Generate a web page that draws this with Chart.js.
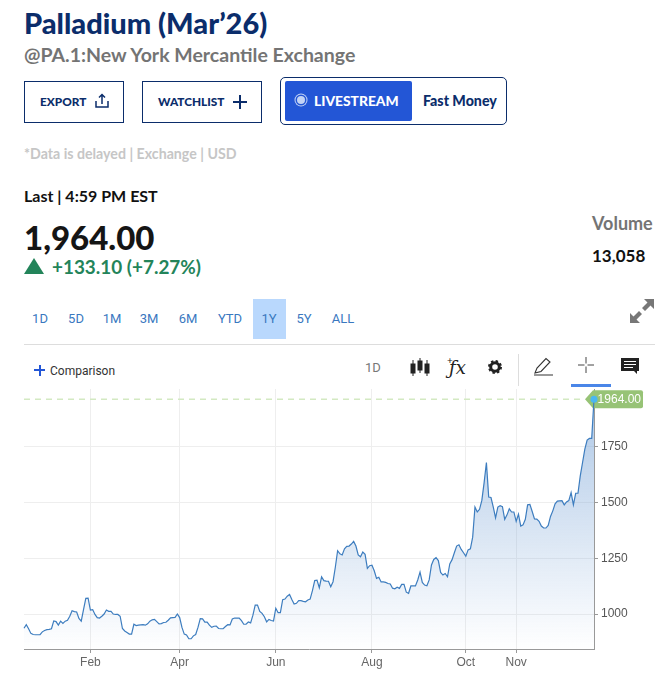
<!DOCTYPE html>
<html>
<head>
<meta charset="utf-8">
<title>Palladium (Mar'26)</title>
<script src="https://cdn.jsdelivr.net/npm/chart.js@4"></script>
<style>
html, body { margin: 0; padding: 0; background: #fff; overflow: hidden; }
#page { position: relative; width: 665px; height: 674px; font-family: "Lato", "Open Sans", sans-serif; }
#page > * { position: absolute; white-space: nowrap; }
#chart { left: 0; top: 385px; }
.title { left: 24px; top: 7px; font-size: 29px; line-height: 32px; font-weight: 900; color: #0b2d6b; }
.sub { left: 24px; top: 43px; font-size: 19.5px; line-height: 24px; font-weight: 700; color: #747474; }
.btn { box-sizing: border-box; top: 81px; height: 42px; border: 1px solid #0b2d6b; color: #0b2d6b; font-size: 11.8px; font-weight: 900; line-height: 40px; }
.btn span, .btn svg { position: absolute; }
.live-box { left: 280px; top: 77px; width: 227px; height: 48px; box-sizing: border-box; border: 1px solid #0b2d6b; border-radius: 5px; }
.live { left: 285px; top: 81px; width: 127px; height: 40px; background: #2356d6; border-radius: 2px; }
.live-txt { left: 314px; top: 92px; font-size: 13.8px; line-height: 17px; font-weight: 900; color: #fff; }
.live-dot { left: 297px; top: 96px; width: 8px; height: 8px; background: #c3d3f5; border-radius: 50%; box-shadow: 0 0 0 1.5px #2356d6, 0 0 0 2.5px #c3d3f5; }
.fast { left: 423px; top: 92px; font-size: 14.2px; line-height: 17px; font-weight: 900; color: #0b2d6b; }
.delay { left: 24px; top: 145px; font-size: 14.2px; line-height: 17px; font-weight: 700; color: #c6c6c6; }
.last { left: 24px; top: 187px; font-size: 16px; line-height: 18px; font-weight: 700; color: #111; }
.price { left: 24px; top: 217px; font-size: 33px; line-height: 40px; font-weight: 900; color: #151515; }
.change { left: 52px; top: 256px; font-size: 18.9px; line-height: 22px; font-weight: 700; color: #23845a; }
.vol { left: 592px; top: 212px; font-size: 18px; line-height: 22px; font-weight: 700; color: #747474; }
.volnum { left: 592px; top: 246px; font-size: 17px; line-height: 20px; font-weight: 700; color: #111; }
.range { top: 311px; font-family: Roboto, sans-serif; font-size: 13px; line-height: 16px; color: #3a78bf; transform: translateX(-50%); }
.hl { left: 253px; top: 299px; width: 33px; height: 40px; background: #b9d8fd; }
.rule { left: 24px; top: 344px; width: 631px; height: 1px; background: #ddd; }
.cmp { left: 50px; top: 364px; font-family: Roboto, sans-serif; font-size: 12px; line-height: 15px; color: #333; }
.plus { left: 34px; top: 369px; width: 11px; height: 2px; background: #2356d6; }
.plusv { left: 38.5px; top: 364.5px; width: 2px; height: 11px; background: #2356d6; }
.tb1d { left: 365px; top: 360px; font-family: Roboto, sans-serif; font-size: 13px; line-height: 16px; color: #777; }
.fx { left: 449px; top: 356px; font-family: "DejaVu Serif", serif; font-style: italic; font-size: 18px; line-height: 24px; color: #222; }
.sep { left: 518px; top: 354px; width: 1px; height: 32px; background: #ddd; }
.under { left: 571px; top: 384px; width: 40px; height: 2.5px; background: #4a86e8; }
</style>
</head>
<body>
<div id="page">
  <div class="title">Palladium (Mar’26)</div>
  <div class="sub">@PA.1:New York Mercantile Exchange</div>

  <div class="btn" style="left:24px;width:100px">
    <span style="left:15px">EXPORT</span>
    <svg style="left:70px;top:11px" width="14" height="16" viewBox="0 0 14 16" fill="none" stroke="#0b2d6b" stroke-width="1.5"><path d="M1 8v6h12V8M7 11V2M4 4.5 7 1.5l3 3"/></svg>
  </div>
  <div class="btn" style="left:142px;width:120px">
    <span style="left:15px">WATCHLIST</span>
    <svg style="left:90px;top:13px" width="14" height="14" viewBox="0 0 14 14" stroke="#0b2d6b" stroke-width="2"><path d="M0 7h14M7 0v14"/></svg>
  </div>
  <div class="live-box"></div>
  <div class="live"></div>
  <div class="live-dot"></div>
  <div class="live-txt">LIVESTREAM</div>
  <div class="fast">Fast Money</div>

  <div class="delay">*Data is delayed | Exchange | USD</div>
  <div class="last">Last | 4:59 PM EST</div>
  <div class="price">1,964.00</div>
  <svg style="left:24px;top:258px" width="20" height="16"><path d="M10 0 20 16H0z" fill="#23845a"/></svg>
  <div class="change">+133.10 (+7.27%)</div>
  <div class="vol">Volume</div>
  <div class="volnum">13,058</div>

  <div class="hl"></div>
  <div class="range" style="left:40px">1D</div>
  <div class="range" style="left:76px">5D</div>
  <div class="range" style="left:112px">1M</div>
  <div class="range" style="left:149px">3M</div>
  <div class="range" style="left:188px">6M</div>
  <div class="range" style="left:230px">YTD</div>
  <div class="range" style="left:269px">1Y</div>
  <div class="range" style="left:304px">5Y</div>
  <div class="range" style="left:343px">ALL</div>
  <svg style="left:630px;top:299px" width="24" height="24" viewBox="0 0 24 24" fill="#777"><path d="M14 0h10v10l-3.5-3.5L15 12l-3-3 5.500-5.500zM10 24H0V14l3.500 3.500L9 12l3 3-5.500 5.500z"/></svg>
  <div class="rule"></div>

  <div class="plus"></div><div class="plusv"></div>
  <div class="cmp">Comparison</div>
  <div class="tb1d">1D</div>
  <svg style="left:410px;top:358px" width="20" height="20" viewBox="0 0 20 20" fill="#222" stroke="#222"><path d="M3 2v16M10 0v15M17 2v16" fill="none"/><rect x="1" y="6" width="4" height="9"/><rect x="8" y="3" width="4" height="9"/><rect x="15" y="6" width="4" height="9"/></svg>
  <div class="fx">ƒx</div>
  <div style="left:447px;top:355px;font-size:10px;line-height:10px;color:#222">+</div>
  <svg style="left:488px;top:360px" width="14" height="14" viewBox="0 0 14 14"><circle cx="7" cy="7" r="4.300" fill="none" stroke="#222" stroke-width="3"/><circle cx="7" cy="7" r="6" fill="none" stroke="#222" stroke-width="2" stroke-dasharray="2.400 2.300"/></svg>
  <div class="sep"></div>
  <svg style="left:534px;top:357px" width="20" height="19" viewBox="0 0 20 19" fill="none" stroke="#333" stroke-width="1.100"><path d="M1 16 3 11 12 1.500l4 3.500-9 9.500zM0 18h19"/></svg>
  <svg style="left:578px;top:357px" width="16" height="16" viewBox="0 0 16 16" stroke="#444" stroke-width="1"><path d="M0 8h6.500M9.500 8H16M8 0v6.500M8 9.500V16"/></svg>
  <div class="under"></div>
  <svg style="left:621px;top:357px" width="18" height="18" viewBox="0 0 18 18"><path d="M0 1h18v13h-2v3l-3-3H0z" fill="#222"/><path d="M3 4.500h12M3 7.500h12M3 10.500h9" stroke="#fff"/></svg>

  <canvas id="chart" width="665" height="289"></canvas>
</div>

<script>
// values, one per trading day
var closes = [
  936, 952, 934, 913, 908, 907, 907, 907, 920, 926,
  930, 931, 934, 969, 966, 950, 968, 958, 968, 972,
  990, 1015, 1011, 1009, 980, 968, 1020, 1070, 1071, 1018,
  1020, 998, 984, 982, 990, 1000, 1018, 1012, 1012, 1000,
  998, 998, 990, 935, 924, 917, 910, 910, 954, 948,
  950, 951, 952, 950, 956, 968, 974, 976, 966, 956,
  957, 962, 963, 972, 983, 984, 985, 1000, 984, 940,
  910, 906, 889, 889, 902, 908, 940, 979, 978, 964,
  964, 950, 940, 945, 946, 935, 934, 934, 944, 952,
  951, 978, 982, 982, 982, 970, 954, 954, 964, 960,
  995, 1040, 1040, 1012, 1003, 988, 965, 976, 971, 969,
  1026, 1006, 1006, 1064, 1067, 1080, 1088, 1065, 1045, 1048,
  1060, 1060, 1057, 1055, 1063, 1067, 1105, 1150, 1152, 1118,
  1167, 1150, 1148, 1147, 1122, 1145, 1210, 1284, 1270, 1265,
  1293, 1304, 1305, 1314, 1326, 1305, 1265, 1257, 1278, 1268,
  1205, 1217, 1219, 1194, 1160, 1165, 1144, 1144, 1142, 1137,
  1135, 1116, 1113, 1120, 1115, 1133, 1133, 1098, 1093, 1126,
  1126, 1126, 1153, 1188, 1142, 1130, 1127, 1153, 1220, 1245,
  1253, 1240, 1187, 1175, 1182, 1167, 1225, 1244, 1275, 1305,
  1311, 1290, 1275, 1260, 1288, 1293, 1345, 1480, 1458, 1470,
  1510, 1590, 1680, 1525, 1523, 1480, 1432, 1480, 1486, 1482,
  1425, 1445, 1472, 1458, 1458, 1416, 1448, 1395, 1400, 1425,
  1490, 1492, 1460, 1427, 1426, 1416, 1395, 1386, 1386, 1398,
  1438, 1463, 1495, 1507, 1508, 1509, 1490, 1503, 1509, 1545,
  1490, 1542, 1542, 1620, 1680, 1740, 1781, 1788, 1788, 1964
];
var lastPrice = 1964;
var lastLabel = '1964.00';
var monthLabels = ['Feb', 'Apr', 'Jun', 'Aug', 'Oct', 'Nov'];
var monthIndex = [29, 68, 110, 152, 193, 215];
var priceTicks = [1000, 1250, 1500, 1750];

var points = closes.map(function (v, i) { return { x: i, y: v }; });
var lastIdx = closes.length - 1;

// green price tag sits under the dot, so draw it before the datasets
var priceTag = {
  id: 'priceTag',
  beforeDatasetsDraw: function (chart) {
    var ctx = chart.ctx;
    var x = chart.scales.x.getPixelForValue(lastIdx);
    var y = chart.scales.y.getPixelForValue(lastPrice);
    ctx.save();
    ctx.fillStyle = '#97c376';
    ctx.beginPath();
    ctx.moveTo(x - 9, y);
    ctx.lineTo(x - 1, y - 9);
    ctx.lineTo(x + 47, y - 9);
    ctx.quadraticCurveTo(x + 49, y - 9, x + 49, y - 7);
    ctx.lineTo(x + 49, y + 7);
    ctx.quadraticCurveTo(x + 49, y + 9, x + 47, y + 9);
    ctx.lineTo(x - 1, y + 9);
    ctx.closePath();
    ctx.fill();
    ctx.fillStyle = '#fff';
    ctx.font = '12px "Liberation Sans", Arial, sans-serif';
    ctx.textAlign = 'right';
    ctx.textBaseline = 'middle';
    ctx.fillText(lastLabel, x + 47, y + 0.5);
    ctx.restore();
  }
};

function areaFill(context) {
  var area = context.chart.chartArea;
  if (!area) { return 'transparent'; }
  var g = context.chart.ctx.createLinearGradient(0, area.top, 0, area.bottom);
  g.addColorStop(0, 'rgba(120,163,214,0.62)');
  g.addColorStop(1, 'rgba(120,163,214,0)');
  return g;
}

new Chart(document.getElementById('chart'), {
  type: 'line',
  plugins: [priceTag],
  data: {
    datasets: [{
      data: points,
      borderColor: '#3d7dbf',
      borderWidth: 1.2,
      backgroundColor: areaFill,
      fill: 'start',
      tension: 0,
      clip: false,
      pointRadius: function (c) { return c.dataIndex === lastIdx ? 3.5 : 0; },
      pointBackgroundColor: '#4ab7f0',
      pointBorderWidth: 0
    }, {
      data: [{ x: 0, y: lastPrice }, { x: lastIdx - 4, y: lastPrice }],
      borderColor: '#d3e9c2',
      borderWidth: 1.5,
      borderDash: [6, 5],
      pointRadius: 0,
      fill: false
    }]
  },
  options: {
    responsive: false,
    animation: false,
    layout: { padding: { left: 24, top: 4, right: 0, bottom: 0 } },
    plugins: { legend: { display: false }, tooltip: { enabled: false } },
    scales: {
      x: {
        type: 'linear',
        min: 0,
        max: lastIdx,
        afterBuildTicks: function (s) { s.ticks = monthIndex.map(function (v) { return { value: v }; }); },
        afterFit: function (s) { s.height = 25; s.paddingLeft = 0; s.paddingRight = 0; },
        border: { color: '#999' },
        grid: { color: '#eeeeee', tickColor: '#999', tickLength: 4 },
        ticks: {
          autoSkip: false,
          maxRotation: 0,
          padding: 2,
          color: '#666',
          font: { family: '"Liberation Sans", Arial, sans-serif', size: 12 },
          callback: function (v) { return monthLabels[monthIndex.indexOf(v)]; }
        }
      },
      y: {
        position: 'right',
        min: 843,
        max: 2010,
        afterBuildTicks: function (s) { s.ticks = priceTicks.map(function (v) { return { value: v }; }); },
        afterFit: function (s) { s.width = 71; s.paddingTop = 0; s.paddingBottom = 0; },
        border: { color: '#999' },
        grid: { color: '#eeeeee', tickColor: '#999', tickLength: 4 },
        ticks: {
          padding: 3,
          color: '#555',
          font: { family: '"Liberation Sans", Arial, sans-serif', size: 12 },
          callback: function (v) { return String(v); }
        }
      }
    }
  }
});
</script>
</body>
</html>
